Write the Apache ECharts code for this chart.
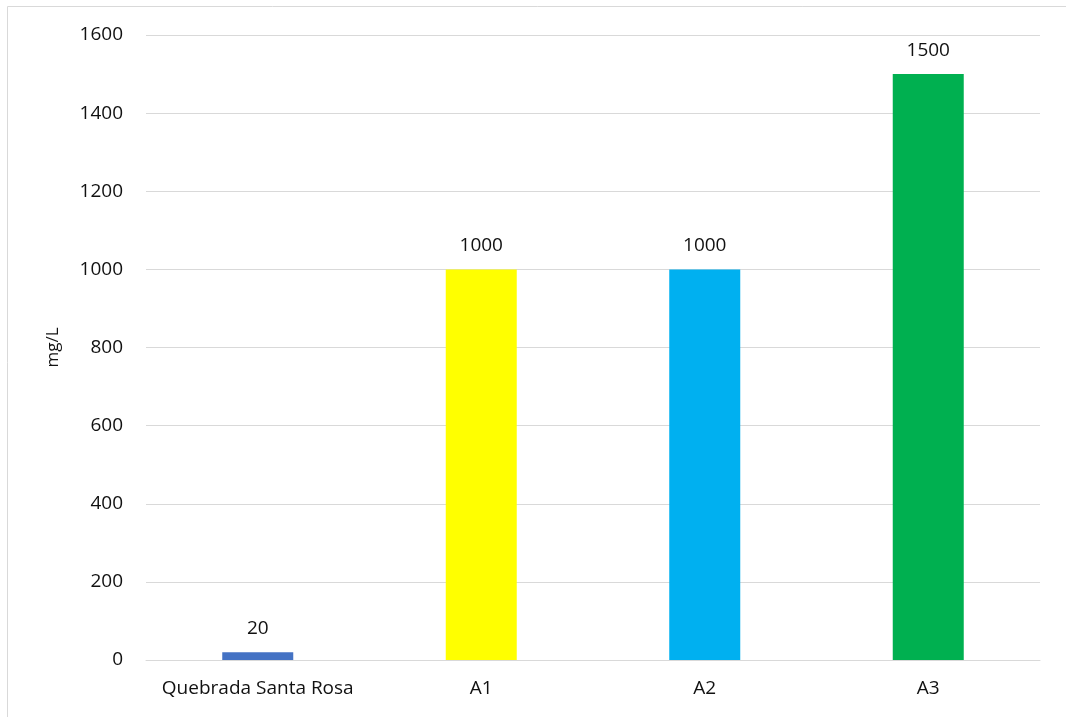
<!DOCTYPE html>
<html><head><meta charset="utf-8">
<script src="https://cdn.jsdelivr.net/npm/echarts@6/dist/echarts.min.js"></script>
<style>html,body{margin:0;padding:0;background:#fff}#c{width:1066px;height:717px}</style>
</head><body><div id="c"></div>
<script>
const categories = ['Quebrada Santa Rosa', 'A1', 'A2', 'A3'];
const values = [20, 1000, 1000, 1500];
const barColors = ['#4472C4', '#FFFF00', '#00B0F0', '#00B050'];
const yTicks = { min: 0, max: 1600, interval: 200 };
const yName = 'mg/L';

const chart = echarts.init(document.getElementById('c'));
const font = '"Open Sans", "Noto Sans", sans-serif';
chart.setOption({
  animation: false,
  textStyle: { fontFamily: font },
  graphic: [{ type: 'rect', shape: { x: 7.5, y: 6.5, width: 1100, height: 800 }, style: { fill: 'none', stroke: '#d9d9d9', lineWidth: 1 }, silent: true }],
  grid: { left: 146, right: 26, top: 35, bottom: 57, containLabel: false },
  xAxis: {
    type: 'category', data: categories,
    axisLine: { lineStyle: { color: '#d9d9d9', width: 1 } },
    axisTick: { show: false },
    axisLabel: { color: '#111', fontSize: 19, margin: 19, interval: 0, fontFamily: font }
  },
  yAxis: {
    type: 'value', min: yTicks.min, max: yTicks.max, interval: yTicks.interval,
    name: yName, nameLocation: 'middle', nameGap: 84, nameRotate: 90,
    nameTextStyle: { color: '#111', fontSize: 17, fontFamily: font },
    axisLine: { show: false }, axisTick: { show: false },
    axisLabel: { color: '#111', fontSize: 19, margin: 23, fontFamily: font, formatter: v => String(v) },
    splitLine: { lineStyle: { color: '#d9d9d9', width: 1 } }
  },
  series: [{
    type: 'bar', barWidth: 71,
    data: values.map((v, i) => ({ value: v, itemStyle: { color: barColors[i] } })),
    label: { show: true, position: 'top', distance: 14, color: '#111', fontSize: 19, fontFamily: font }
  }]
});
</script></body></html>
